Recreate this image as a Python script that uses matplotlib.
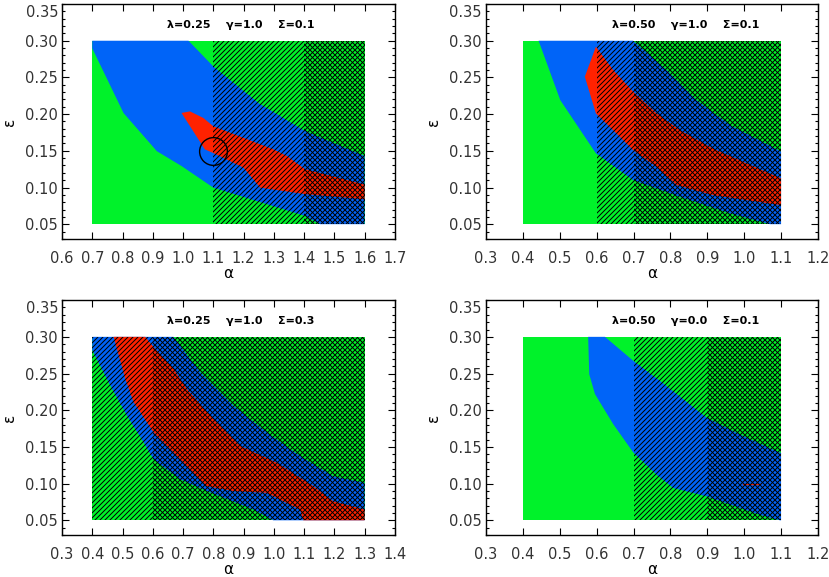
import numpy as np
import matplotlib
matplotlib.use("Agg")
import matplotlib.pyplot as plt
from matplotlib.patches import Polygon, Rectangle
from matplotlib.ticker import MultipleLocator, FormatStrFormatter

DPI = 90
S = 100.0 / DPI   # keeps sizes as they would be at 100 dpi

plt.rcParams['font.family'] = ['DejaVu Sans']
plt.rcParams['hatch.linewidth'] = 0.8

GREEN = '#00f22a'
BLUE = '#0064f8'
RED = '#ff2200'

# panel titles
titles = ["\u03bb=0.25    \u03b3=1.0    \u03a3=0.1",
          "\u03bb=0.50    \u03b3=1.0    \u03a3=0.1",
          "\u03bb=0.25    \u03b3=1.0    \u03a3=0.3",
          "\u03bb=0.50    \u03b3=0.0    \u03a3=0.1"]

# x ranges of the axes, grid rectangle, hatch starts
xlims = [(0.6, 1.7), (0.3, 1.2), (0.3, 1.4), (0.3, 1.2)]
grid_alpha = [(0.7, 1.6), (0.4, 1.1), (0.4, 1.3), (0.4, 1.1)]
hatch_from = [1.1, 0.6, 0.4, 0.7]
cross_from = [1.4, 0.7, 0.6, 0.9]
y_ticks = [0.05, 0.10, 0.15, 0.20, 0.25, 0.30]

# blue region outlines (alpha, epsilon)
blue1_a = [0.7, 0.7, 0.8035, 0.9135, 0.996, 1.1, 1.403, 1.453, 1.6, 1.6, 1.403, 1.25, 1.1, 1.018]
blue1_e = [0.30, 0.2896, 0.2014, 0.1495, 0.129, 0.0998, 0.0613, 0.05, 0.05, 0.143, 0.177, 0.215, 0.265, 0.30]
blue2_a = [0.4427, 0.5015, 0.598, 0.699, 0.826, 0.962, 1.07, 1.1, 1.1, 0.962, 0.871, 0.79, 0.699]
blue2_e = [0.30, 0.219, 0.1465, 0.110, 0.0873, 0.0647, 0.05, 0.05, 0.149, 0.185, 0.219, 0.26, 0.30]
blue3_a = [0.4, 0.4, 0.4595, 0.5145, 0.57, 0.6025, 0.69, 0.778, 0.9325, 0.998, 1.3, 1.3,
           1.1965, 1.0865, 0.9765, 0.8665, 0.7565, 0.6685]
blue3_e = [0.30, 0.2817, 0.2337, 0.1926, 0.156, 0.133, 0.106, 0.090, 0.0646, 0.05, 0.05, 0.101,
           0.110, 0.1378, 0.17, 0.2063, 0.252, 0.30]
blue4_a = [0.577, 0.580, 0.5955, 0.645, 0.690, 0.70, 0.7627, 0.8077, 0.8983, 1.0427, 1.097, 1.1,
           1.1, 1.097, 0.9886, 0.898, 0.7717, 0.699, 0.6226]
blue4_e = [0.30, 0.249, 0.222, 0.181, 0.149, 0.142, 0.112, 0.094, 0.0826, 0.0574, 0.05, 0.05,
           0.142, 0.142, 0.167, 0.190, 0.24, 0.2675, 0.30]

# red region outlines
red1_a = [0.995, 1.023, 1.067, 1.1, 1.2985, 1.343, 1.403, 1.6, 1.6, 1.403, 1.255, 1.2, 1.1, 1.072]
red1_e = [0.2016, 0.2037, 0.1948, 0.1834, 0.152, 0.143, 0.125, 0.104, 0.084, 0.091, 0.0998, 0.127, 0.147, 0.152]
red2_a = [0.568, 0.598, 0.645, 0.699, 0.7627, 0.826, 0.916, 1.007, 1.1, 1.1,
          1.007, 0.916, 0.817, 0.763, 0.699, 0.645, 0.598]
red2_e = [0.251, 0.2918, 0.26, 0.2305, 0.201, 0.178, 0.153, 0.1328, 0.1124, 0.076,
          0.0828, 0.0896, 0.1033, 0.128, 0.151, 0.178, 0.201]
red3_a = [0.4705, 0.509, 0.5365, 0.6025, 0.6795, 0.778, 0.8665, 0.9765, 1.0865, 1.0975, 1.3, 1.3,
          1.1965, 1.13, 1.0095, 0.888, 0.80, 0.7125, 0.6685, 0.6025, 0.575]
red3_e = [0.30, 0.2429, 0.211, 0.17, 0.138, 0.0966, 0.0898, 0.0875, 0.0646, 0.05, 0.05, 0.0646,
          0.076, 0.0966, 0.1286, 0.1515, 0.188, 0.229, 0.2566, 0.286, 0.30]
red4_a = [0.997, 1.043]
red4_e = [0.100, 0.100]

blues = [(blue1_a, blue1_e), (blue2_a, blue2_e), (blue3_a, blue3_e), (blue4_a, blue4_e)]
reds = [(red1_a, red1_e), (red2_a, red2_e), (red3_a, red3_e), None]

# axes boxes in figure fractions
boxes = [[0.0747, 0.586, 0.401, 0.407],
         [0.5855, 0.586, 0.400, 0.407],
         [0.0747, 0.0728, 0.401, 0.407],
         [0.5855, 0.0728, 0.400, 0.407]]
title_x = [0.315, 0.38, 0.315, 0.38]

fig = plt.figure(figsize=(830 / DPI, 577 / DPI), dpi=DPI)

for i in range(4):
    ax = fig.add_axes(boxes[i])
    a0, a1 = grid_alpha[i]
    ax.add_patch(Rectangle((a0, 0.05), a1 - a0, 0.25, facecolor=GREEN, edgecolor='none', zorder=1))
    ba, be = blues[i]
    ax.add_patch(Polygon(np.column_stack([ba, be]), closed=True, facecolor=BLUE,
                         edgecolor='none', zorder=2))
    if reds[i] is not None:
        ra, re = reds[i]
        ax.add_patch(Polygon(np.column_stack([ra, re]), closed=True, facecolor=RED,
                             edgecolor='none', zorder=3))
    else:
        ax.plot(red4_a, red4_e, color=RED, lw=1 * S, zorder=3)
    # 6 strokes per hatch -> lines every 5 px at 90 dpi
    h = hatch_from[i]
    ax.add_patch(Rectangle((h, 0.05), a1 - h, 0.25, fill=False, hatch='//////',
                           edgecolor='black', linewidth=0, zorder=4))
    c = cross_from[i]
    ax.add_patch(Rectangle((c, 0.05), a1 - c, 0.25, fill=False, hatch='\\\\\\\\\\\\',
                           edgecolor='black', linewidth=0, zorder=4))
    if i == 0:
        ax.plot([1.1], [0.15], marker='o', markersize=20 * S, markerfacecolor='none',
                markeredgecolor='black', markeredgewidth=1 * S, zorder=5)

    ax.set_xlim(*xlims[i])
    ax.set_ylim(0.03, 0.35)
    ax.xaxis.set_major_locator(MultipleLocator(0.1))
    ax.set_yticks(y_ticks)
    ax.yaxis.set_minor_locator(MultipleLocator(0.01))
    ax.xaxis.set_major_formatter(FormatStrFormatter('%.1f'))
    ax.yaxis.set_major_formatter(FormatStrFormatter('%.2f'))
    ax.tick_params(axis='both', which='both', direction='in', top=True, right=True,
                   labelsize=10.5 * S, colors='black')
    ax.tick_params(axis='both', which='major', length=5 * S, width=0.8 * S)
    ax.tick_params(axis='y', which='minor', length=2.5 * S, width=0.8 * S)
    ax.tick_params(axis='x', which='major', pad=9 * S)
    ax.tick_params(axis='y', which='major', pad=3 * S)
    for tl in ax.get_xticklabels() + ax.get_yticklabels():
        tl.set_color('#333333')
    # top label sits a little below its tick, as in the original
    ax.text(-0.012, 0.965, '0.35', transform=ax.transAxes, ha='right', va='center',
            fontsize=10.5 * S, color='#333333')
    for s in ax.spines.values():
        s.set_linewidth(1.0 * S)
    ax.set_xlabel('\u03b1', fontsize=11 * S, labelpad=0)
    ax.set_ylabel('\u03b5', fontsize=11 * S, labelpad=6 * S)
    ax.text(title_x[i], 0.91, titles[i], transform=ax.transAxes, fontsize=8 * S,
            fontweight='bold', ha='left', va='center')

fig.savefig('out.png', dpi=DPI)
